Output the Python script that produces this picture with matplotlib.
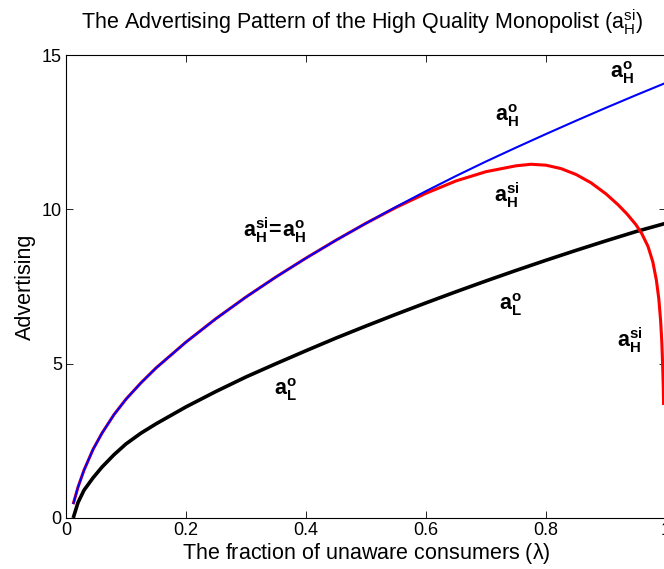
import matplotlib
matplotlib.use("Agg")
import matplotlib.pyplot as plt

# a_H^o (blue), full range
lam_o = [0.012, 0.02, 0.03, 0.045, 0.06, 0.08, 0.1, 0.125, 0.15, 0.2, 0.25, 0.3, 0.35,
         0.4, 0.45, 0.5, 0.55, 0.6, 0.65, 0.7, 0.75, 0.8, 0.85, 0.9, 0.95, 1.0]
a_H_o = [0.45, 1.0, 1.55, 2.22, 2.75, 3.35, 3.85, 4.38, 4.86, 5.7, 6.46, 7.16, 7.81,
         8.42, 9.0, 9.55, 10.08, 10.59, 11.08, 11.55, 12.0, 12.44, 12.87, 13.29, 13.7, 14.1]

# a_H^si (red)
lam_si = [0.012, 0.02, 0.03, 0.045, 0.06, 0.08, 0.1, 0.125, 0.15, 0.2, 0.25, 0.3, 0.35,
          0.4, 0.45, 0.5, 0.55, 0.6, 0.65, 0.7, 0.75, 0.775, 0.8, 0.825, 0.85, 0.875,
          0.9, 0.92, 0.935, 0.95, 0.96, 0.97, 0.978, 0.984, 0.988, 0.991, 0.993,
          0.9945, 0.9955, 0.996]
a_H_si = [0.45, 1.0, 1.55, 2.22, 2.75, 3.35, 3.85, 4.38, 4.86, 5.7, 6.46, 7.16, 7.81,
          8.42, 9.0, 9.55, 10.06, 10.52, 10.92, 11.22, 11.41, 11.46, 11.43, 11.32, 11.13, 10.86,
          10.5, 10.15, 9.85, 9.5, 9.2, 8.8, 8.3, 7.7, 7.1, 6.4, 5.7,
          4.9, 4.2, 3.66]

# a_L^o (black)
lam_L = [0.012, 0.02, 0.03, 0.045, 0.06, 0.08, 0.1, 0.125, 0.15, 0.2, 0.25, 0.3, 0.35,
         0.4, 0.45, 0.5, 0.55, 0.6, 0.65, 0.7, 0.75, 0.8, 0.85, 0.9, 0.95, 1.0]
a_L_o = [0.0, 0.5, 0.9, 1.3, 1.65, 2.05, 2.4, 2.75, 3.05, 3.6, 4.1, 4.57, 5.0,
         5.42, 5.83, 6.22, 6.6, 6.97, 7.33, 7.68, 8.02, 8.35, 8.67, 8.98, 9.28, 9.55]

xticks = [0, 0.2, 0.4, 0.6, 0.8, 1]
xticklabels = ["0", "0.2", "0.4", "0.6", "0.8", "1"]
yticks = [0, 5, 10, 15]

plt.rcParams["font.family"] = ["Liberation Sans", "DejaVu Sans"]
plt.rcParams["mathtext.fontset"] = "custom"
plt.rcParams["mathtext.rm"] = "Liberation Sans"
plt.rcParams["mathtext.it"] = "Liberation Sans"
plt.rcParams["mathtext.bf"] = "Liberation Sans:bold"

fig = plt.figure(figsize=(6.64, 5.69), dpi=100)
ax = fig.add_axes([66 / 664, 51 / 569, 600 / 664, 463 / 569])

ax.plot(lam_L, a_L_o, color="black", linewidth=2.6, solid_capstyle="butt")
ax.plot(lam_si, a_H_si, color="red", linewidth=2.2, solid_capstyle="butt")
ax.plot(lam_o, a_H_o, color="blue", linewidth=1.5, solid_capstyle="butt")

ax.set_xlim(0, 1)
ax.set_ylim(0, 15)
ax.set_xticks(xticks)
ax.set_xticklabels(xticklabels)
ax.set_yticks(yticks)
ax.tick_params(direction="in", length=5, width=0.6, labelsize=13,
               top=True, right=True, pad=3)
for s in ax.spines.values():
    s.set_linewidth(0.8)

ax.set_xlabel(r"The fraction of unaware consumers ($\lambda$)", fontsize=15.5, labelpad=1)
ax.set_ylabel("Advertising", fontsize=15.5, labelpad=4)
fig.text(0.5 + 30 / 664, 1 - 22 / 569,
         r"The Advertising Pattern of the High Quality Monopolist ($\mathregular{a_H^{si}}$)",
         fontsize=15.5, ha="center", va="center")

lbl = dict(fontsize=15.5, ha="center", va="center")
ax.text(0.348, 9.33, r"$\mathbf{a_H^{si}\!=\!a_H^o}$", **lbl)
ax.text(0.365, 4.15, r"$\mathbf{a_L^o}$", **lbl)
ax.text(0.735, 13.05, r"$\mathbf{a_H^o}$", **lbl)
ax.text(0.927, 14.42, r"$\mathbf{a_H^o}$", **lbl)
ax.text(0.735, 10.46, r"$\mathbf{a_H^{si}}$", **lbl)
ax.text(0.74, 6.9, r"$\mathbf{a_L^o}$", **lbl)
ax.text(0.94, 5.77, r"$\mathbf{a_H^{si}}$", **lbl)

fig.savefig("out.png", dpi=100)
